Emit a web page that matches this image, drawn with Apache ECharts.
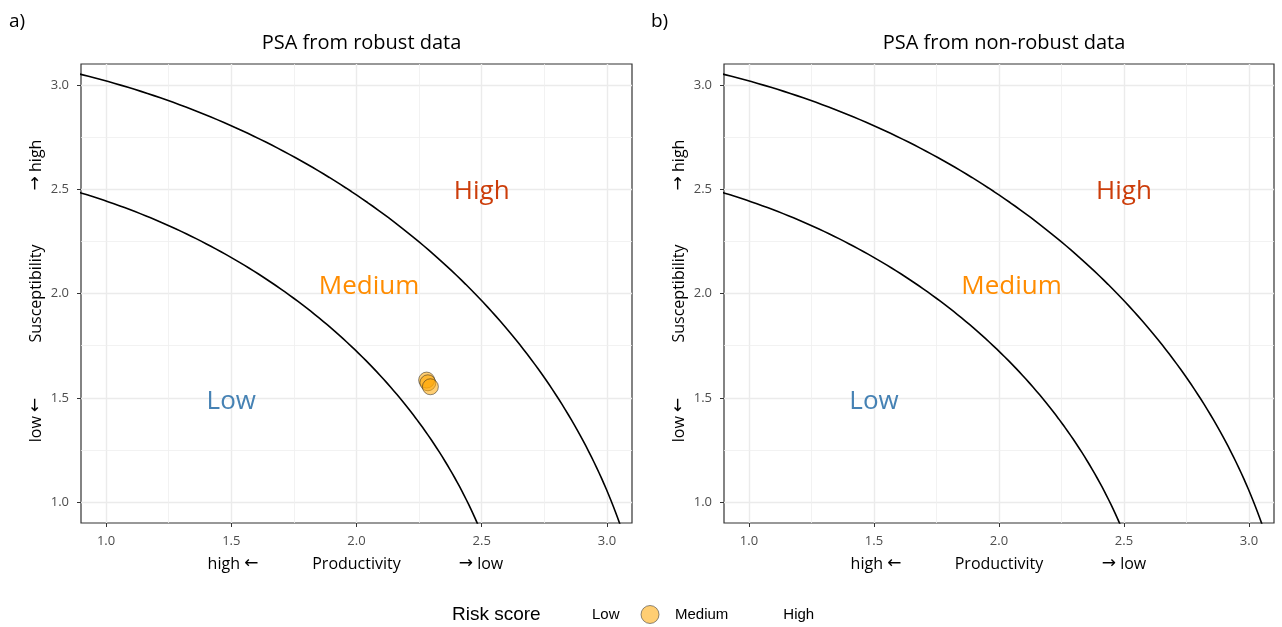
<!DOCTYPE html>
<html>
<head>
<meta charset="utf-8">
<script src="https://cdn.jsdelivr.net/npm/echarts@6/dist/echarts.min.js"></script>
<style>
  html, body { margin: 0; background: #fff; }
  #chart { width: 1282px; height: 627px; }
</style>
</head>
<body>
<div id="chart"></div>
<script>
// panels
const panelTitles = ["PSA from robust data", "PSA from non-robust data"];
const panelTags = ["a)", "b)"];
// risk thresholds (radius of PSA score)
const thresholds = [2.64, 3.18];
// axis ticks
const tickValues = [1.0, 1.5, 2.0, 2.5, 3.0];
const minorValues = [1.25, 1.75, 2.25, 2.75];
// points (only robust panel has data)
const robustProductivity = [2.28, 2.285, 2.295];
const robustSusceptibility = [1.585, 1.572, 1.553];
// zone labels
const zoneNames = ["Low", "Medium", "High"];
const zoneX = [1.5, 2.05, 2.5];
const zoneY = [1.48, 2.035, 2.49];
const zoneColors = ["#4682B4", "#FF8C00", "#CC3D0A"];
const riskLevels = ["Low", "Medium", "High"];

const font = "'Open Sans', 'Noto Sans', sans-serif";
const arrowFont = "'DejaVu Sans', sans-serif";
const legendFont = "'Liberation Sans', Arial, sans-serif";
const chart = echarts.init(document.getElementById("chart"));

const grids = [
  { left: 81, top: 64, width: 551, height: 459 },
  { left: 724, top: 64, width: 550, height: 459 },
];

// threshold arcs
function arc(r) {
  const pts = [];
  for (let a = 0; a <= 90; a += 0.5) {
    const t = (a * Math.PI) / 180;
    pts.push([r * Math.cos(t), r * Math.sin(t)]);
  }
  return pts;
}

const major = { color: "#ebebeb", width: 1.4, type: "solid" };
const minor = { color: "#efefef", width: 0.8, type: "solid" };
const gridLines = {
  silent: true,
  symbol: "none",
  z: 0,
  label: { show: false },
  emphasis: { disabled: true },
  data: [
    ...tickValues.map((v) => ({ xAxis: v, lineStyle: major })),
    ...tickValues.map((v) => ({ yAxis: v, lineStyle: major })),
    ...minorValues.map((v) => ({ xAxis: v, lineStyle: minor })),
    ...minorValues.map((v) => ({ yAxis: v, lineStyle: minor })),
  ],
};

const axisLabel = {
  customValues: tickValues,
  formatter: (v) => v.toFixed(1),
  color: "#4d4d4d",
  fontSize: 13,
  fontFamily: font,
  margin: 12,
};
const axisTick = { show: true, customValues: tickValues, length: 4, lineStyle: { color: "#333" } };
const nameStyle = { fontSize: 16, fontFamily: font, color: "#000" };

const series = [];
const xAxis = [];
const yAxis = [];
grids.forEach((g, i) => {
  xAxis.push({
    gridIndex: i,
    type: "value",
    min: 0.9,
    max: 3.1,
    splitLine: { show: false },
    axisLine: { show: false },
    axisTick,
    axisLabel,
    name: "Productivity",
    nameLocation: "middle",
    nameGap: 33,
    nameTextStyle: nameStyle,
  });
  yAxis.push({
    gridIndex: i,
    type: "value",
    min: 0.9,
    max: 3.1,
    splitLine: { show: false },
    axisLine: { show: false },
    axisTick,
    axisLabel,
    name: "Susceptibility",
    nameLocation: "middle",
    nameGap: 37,
    nameTextStyle: nameStyle,
  });

  // gridlines + zone labels
  series.push({
    type: "scatter",
    xAxisIndex: i,
    yAxisIndex: i,
    symbolSize: 0,
    silent: true,
    z: 1,
    itemStyle: { opacity: 1 },
    data: zoneNames.map((n, k) => ({
      value: [zoneX[k], zoneY[k]],
      label: {
        show: true,
        position: "inside",
        formatter: n,
        color: zoneColors[k],
        fontSize: 26,
        fontFamily: font,
        textBorderWidth: 0,
      },
    })),
    markLine: gridLines,
  });

  thresholds.forEach((r) => {
    series.push({
      type: "line",
      xAxisIndex: i,
      yAxisIndex: i,
      data: arc(r),
      showSymbol: false,
      silent: true,
      z: 3,
      lineStyle: { color: "#000", width: 1.6 },
    });
  });
});

// risk score series (legend)
const pointStyle = {
  color: "rgba(255,165,0,0.55)",
  borderColor: "rgba(30,30,30,0.5)",
  borderWidth: 1,
  opacity: 1,
};
const hiddenStyle = { color: "transparent", borderColor: "transparent" };
riskLevels.forEach((lvl) => {
  series.push({
    name: lvl,
    type: "scatter",
    xAxisIndex: 0,
    yAxisIndex: 0,
    symbolSize: 16,
    z: 4,
    itemStyle: lvl === "Medium" ? pointStyle : hiddenStyle,
    data: lvl === "Medium" ? robustProductivity.map((x, k) => [x, robustSusceptibility[k]]) : [],
  });
});

// arrow parts of the axis titles
function arrowText(x, y, text, vertical) {
  return {
    type: "text",
    x,
    y,
    rotation: vertical ? Math.PI / 2 : 0,
    silent: true,
    style: {
      text,
      align: "center",
      verticalAlign: "middle",
      fontSize: 16,
      fontFamily: font,
      fill: "#000",
      rich: {
        t: { fontSize: 16, fontFamily: font, color: "#000" },
        ar: { fontSize: 17, fontFamily: arrowFont, color: "#000" },
      },
    },
  };
}
const arrowGraphics = [];
grids.forEach((g) => {
  arrowGraphics.push(arrowText(g.left + 152, 564, "{t|high }{ar|←}", false));
  arrowGraphics.push(arrowText(g.left + 400, 564, "{ar|→}{t| low}", false));
  arrowGraphics.push(arrowText(g.left - 45, 420, "{t|low }{ar|←}", true));
  arrowGraphics.push(arrowText(g.left - 45, 165, "{ar|→}{t| high}", true));
});

const option = {
  animation: false,
  backgroundColor: "#fff",
  grid: grids.map((g) => ({ ...g, show: true, borderColor: "#333", borderWidth: 1.2, backgroundColor: "transparent" })),
  xAxis,
  yAxis,
  legend: {
    left: 553,
    top: 600,
    itemWidth: 40,
    itemHeight: 18,
    itemGap: 21,
    icon: "circle",
    selectedMode: false,
    textStyle: { fontSize: 15, fontFamily: legendFont, color: "#000" },
    data: riskLevels.map((n) => ({ name: n, itemStyle: n === "Medium" ? pointStyle : hiddenStyle })),
  },
  title: panelTitles.map((t, i) => ({
    text: t,
    left: grids[i].left + grids[i].width / 2,
    top: 28,
    textAlign: "center",
    textStyle: { fontSize: 20, fontWeight: "normal", fontFamily: font, color: "#000" },
  })),
  graphic: [
    { type: "text", left: 9, top: 12, style: { text: panelTags[0], fontSize: 19, fontFamily: font, fill: "#000" } },
    { type: "text", left: 651, top: 12, style: { text: panelTags[1], fontSize: 19, fontFamily: font, fill: "#000" } },
    { type: "text", left: 452, top: 605, style: { text: "Risk score", fontSize: 19, fontFamily: legendFont, fill: "#000" } },
    ...arrowGraphics,
  ],
  series,
};
chart.setOption(option);
</script>
</body>
</html>
